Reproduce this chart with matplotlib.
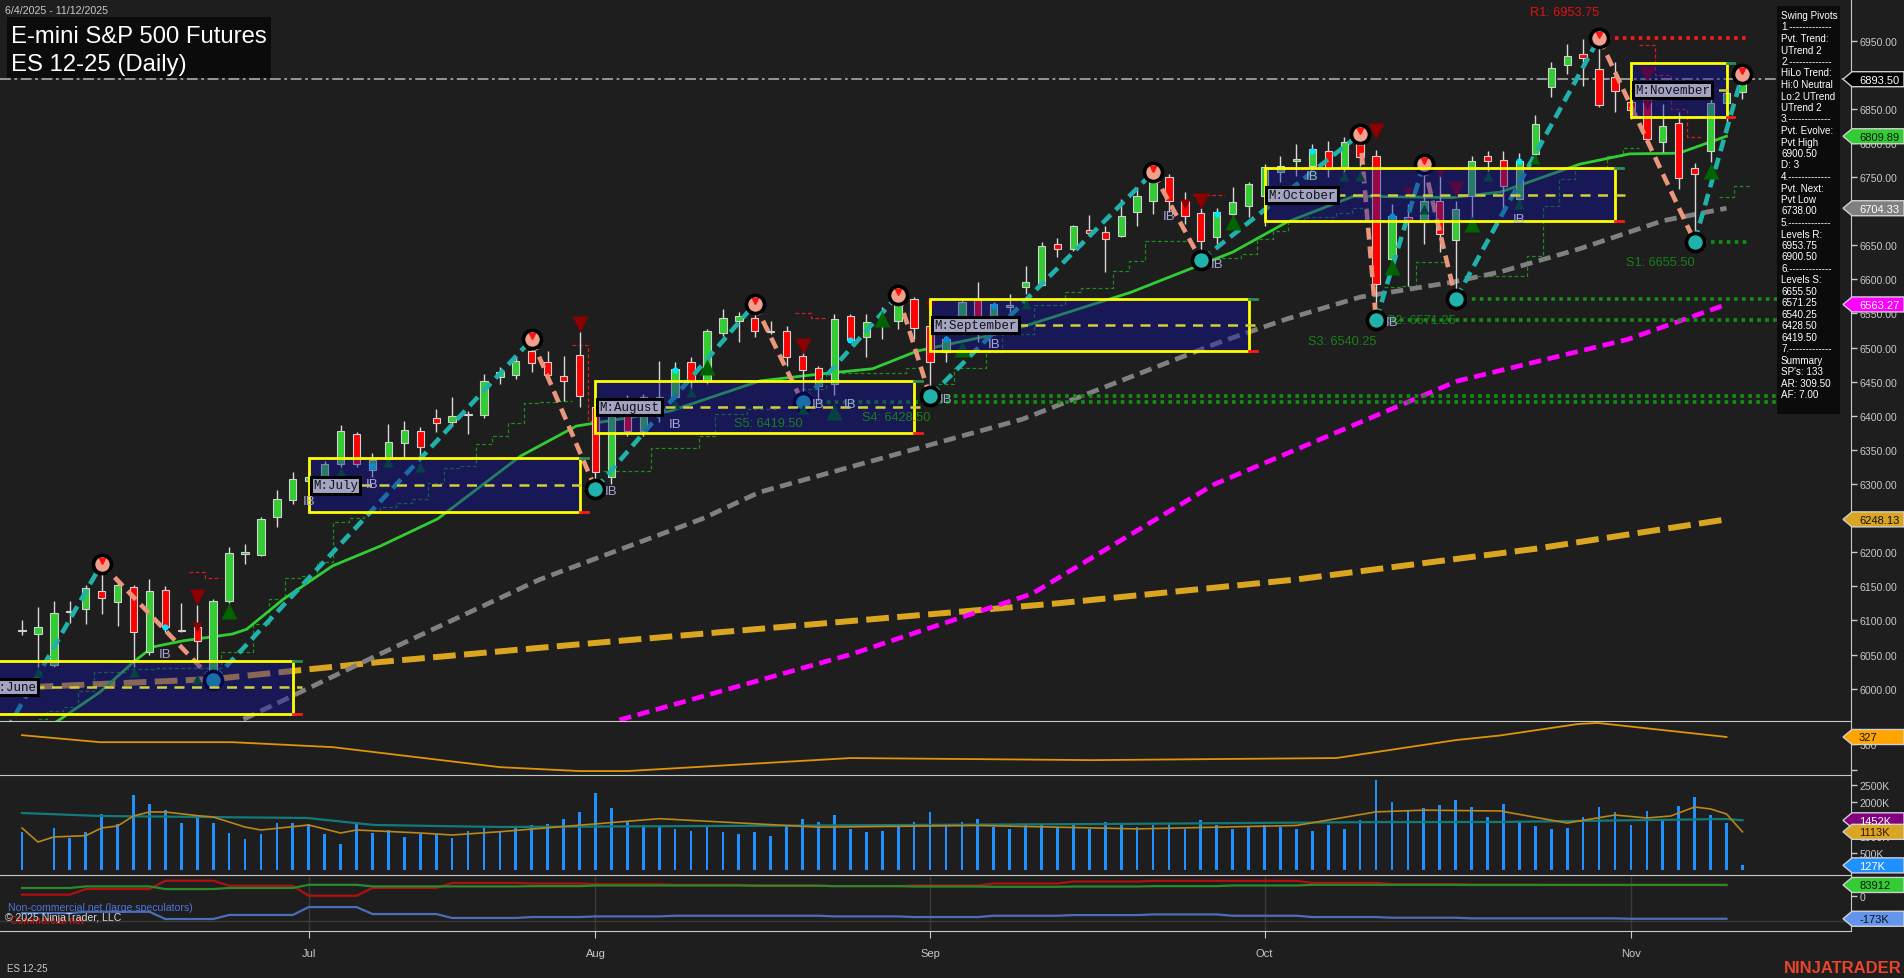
import numpy as np
import matplotlib
matplotlib.use('Agg')
import matplotlib.pyplot as plt
from matplotlib.patches import Rectangle, Polygon
from matplotlib.transforms import offset_copy

plt.rcParams['font.family'] = ['Liberation Sans', 'DejaVu Sans']

BG = '#1e1e1e'
FG = '#c8c8c8'
W, H = 1904, 979

# ES 12-25 daily bars (bar index 0 = first bar on screen)
opens = [6085, 6080, 6035, 6112, 6116, 6143, 6127, 6149, 6053, 6144,
         6086, 6090, 6024, 6129, 6197, 6196, 6251, 6276, 6305, 6300,
         6329, 6373, 6320, 6336, 6360, 6377, 6397, 6391, 6402, 6401,
         6457, 6460, 6495, 6479, 6458, 6489, 6413, 6310, 6425, 6377,
         6427, 6427, 6479, 6451, 6522, 6539, 6544, 6525, 6524, 6487,
         6470, 6447, 6546, 6515, 6533, 6539, 6571, 6532, 6493, 6532,
         6571, 6542, 6560, 6589, 6592, 6652, 6644, 6672, 6669, 6664,
         6699, 6715, 6750, 6715, 6697, 6662, 6696, 6707, 6722, 6757,
         6774, 6766, 6788, 6765, 6798, 6781, 6630, 6692, 6684, 6715,
         6658, 6722, 6781, 6775, 6718, 6784, 6882, 6915, 6930, 6908,
         6897, 6860, 6864, 6801, 6829, 6763, 6788, 6859, 6875]
highs = [6100, 6119, 6129, 6129, 6152, 6183, 6161, 6152, 6161, 6150,
         6125, 6122, 6132, 6208, 6212, 6251, 6291, 6318, 6320, 6333,
         6386, 6376, 6345, 6388, 6393, 6384, 6410, 6427, 6407, 6461,
         6472, 6487, 6512, 6495, 6487, 6523, 6420, 6425, 6430, 6432,
         6480, 6479, 6486, 6527, 6556, 6552, 6564, 6539, 6532, 6493,
         6473, 6549, 6549, 6549, 6560, 6577, 6574, 6540, 6517, 6570,
         6596, 6567, 6579, 6620, 6655, 6661, 6680, 6694, 6678, 6718,
         6735, 6757, 6755, 6728, 6704, 6704, 6735, 6743, 6769, 6781,
         6798, 6798, 6803, 6809, 6813, 6790, 6710, 6710, 6769, 6755,
         6715, 6781, 6788, 6788, 6786, 6841, 6919, 6945, 6952, 6953.75,
         6919, 6880, 6880, 6857, 6845, 6770, 6865, 6882, 6900.5]
lows = [6078, 6032, 6032, 6096, 6094, 6109, 6092, 6032, 6050, 6083,
        6083, 6032, 6012, 6125, 6183, 6194, 6237, 6270, 6295, 6290,
        6325, 6325, 6310, 6332, 6337, 6337, 6376, 6385, 6373, 6397,
        6447, 6454, 6464, 6450, 6422, 6413, 6293, 6300, 6370, 6370,
        6391, 6425, 6435, 6447, 6517, 6508, 6515, 6520, 6473, 6419.5,
        6422, 6430, 6508, 6486, 6512, 6527, 6512, 6428.5, 6479, 6520,
        6508, 6523, 6542, 6579, 6590, 6633, 6642, 6664, 6611, 6662,
        6678, 6696, 6699, 6681, 6628, 6652, 6688, 6691, 6678, 6743,
        6752, 6752, 6750, 6747, 6766, 6540.25, 6611, 6590, 6652, 6640,
        6571.25, 6688, 6759, 6703, 6713, 6771, 6867, 6901, 6884, 6853,
        6845, 6835, 6800, 6787, 6732, 6655.5, 6772, 6830, 6865]
closes = [6086, 6090, 6111, 6113, 6148, 6133, 6152, 6083, 6143, 6090,
          6085, 6070, 6129, 6199, 6200, 6249, 6278, 6307, 6310, 6329,
          6378, 6329, 6335, 6361, 6379, 6354, 6389, 6400, 6401, 6451,
          6464, 6480, 6477, 6460, 6451, 6429, 6317, 6420, 6377, 6427,
          6424, 6468, 6451, 6524, 6544, 6546, 6525, 6523, 6486, 6467,
          6444, 6542, 6511, 6537, 6536, 6564, 6529, 6479, 6512, 6567,
          6544, 6564, 6562, 6596, 6649, 6644, 6678, 6668, 6659, 6693,
          6722, 6743, 6715, 6693, 6656, 6699, 6713, 6740, 6765, 6766,
          6776, 6791, 6762, 6801, 6779, 6593, 6693, 6686, 6715, 6666,
          6703, 6774, 6774, 6737, 6773, 6828, 6910, 6928, 6924, 6856,
          6876, 6848, 6806, 6825, 6748, 6754, 6859, 6873, 6893.5]
volume_k = [1117, 0, 1226, 930, 1117, 1638, 1344, 2197, 1932, 1755,
            1373, 1589, 1373, 1079, 903, 1050, 1373, 1373, 1344, 1050,
            756, 1402, 1079, 1167, 971, 1050, 1050, 932, 1138, 1226,
            1150, 1250, 1300, 1350, 1500, 1700, 2250, 1800, 1400, 1300,
            1250, 1200, 1150, 1300, 1100, 1050, 1100, 1000, 1300, 1500,
            1400, 1600, 1200, 1100, 1150, 1250, 1400, 1700, 1350, 1400,
            1500, 1250, 1200, 1300, 1350, 1250, 1300, 1200, 1400, 1300,
            1250, 1300, 1350, 1200, 1450, 1300, 1200, 1250, 1300, 1250,
            1200, 1150, 1300, 1200, 1450, 2650, 2000, 1750, 1800, 1900,
            2050, 1850, 1550, 1932, 1402, 1285, 1197, 1226, 1550, 1844,
            1697, 1314, 1726, 1491, 1873, 2138, 1608, 1373, 127]

month_labels = ['Jul', 'Aug', 'Sep', 'Oct', 'Nov']
month_ticks = [18, 36, 57, 78, 101]

# moving averages (bar index, value)
ma_green_i = [1.0, 2.4, 4.9, 7.0, 8.2, 10.1, 13.2, 14.1, 16.4, 19.5, 22.5, 26.1, 31.3, 34.8, 40.7,
              46.3, 50.0, 53.4, 56.2, 61.8, 69.6, 76.0, 79.4, 83.6, 89.8, 92.8, 97.8, 100.9, 104.0, 107.0]
ma_green_v = [5935, 5955, 5995, 6039, 6061, 6070, 6080, 6087, 6131, 6180, 6209, 6249, 6341, 6385, 6407,
              6451, 6461, 6469, 6495, 6523, 6581, 6640, 6684, 6722, 6720, 6728, 6769, 6784, 6785, 6809.89]
ma_gray_i = [13.9, 22.5, 32.5, 42.7, 46.3, 62.8, 69.6, 75.2, 79.4, 84.0, 89.8, 92.8, 97.8, 103.0, 107.0]
ma_gray_v = [5955, 6051, 6160, 6249, 6288, 6395, 6457, 6508, 6542, 6574, 6596, 6611, 6645, 6686, 6704.33]
ma_mag_i = [37.5, 52.0, 63.4, 74.8, 90.1, 100.8, 107.0]
ma_mag_v = [5954, 6050, 6139, 6299, 6451, 6512, 6563.27]
ma_orange_i = [-1.4, 1.3, 12.0, 22.5, 35.0, 50.0, 65.0, 80.0, 95.0, 107.0]
ma_orange_v = [5998, 6003, 6014, 6039, 6065, 6095, 6125, 6160, 6205, 6248.13]

# swing pivots (first one is off screen)
pivot_idx = [-1, 5, 12, 32, 36, 46, 49, 55, 57, 71, 74, 84, 85, 88, 90, 99, 105, 108]
pivot_px = [5938, 6183, 6012, 6512, 6293, 6564, 6419.5, 6577, 6428.5, 6757, 6628, 6813,
            6540.25, 6769, 6571.25, 6953.75, 6655.5, 6900.5]

# monthly boxes
box_names = ['June', 'July', 'August', 'September', 'October', 'November']
box_start = [-2.2, 18, 36, 57, 78, 101]
box_end = [17, 35, 56, 77, 100, 107]
box_high = [6040, 6338, 6451, 6571, 6763, 6917]
box_low = [5963, 6259, 6375, 6495, 6686, 6838]
box_mid = [6002, 6298, 6413, 6533, 6724, 6878]

# support / resistance levels
sr_names = ['R1', 'S1', 'S2', 'S3', 'S4', 'S5']
sr_values = [6953.75, 6655.50, 6571.25, 6540.25, 6428.50, 6419.50]
sr_start = [99, 105, 90, 85, 57, 49]
sr_end = [108.3, 108.3, 110.5, 110.5, 110.5, 110.5]

# trailing stop steps (start, end, level)
stop_start = [1.0, 1.6, 2.6, 3.5, 4.5, 6.5, 8.5, 12.5, 14.5, 15.5, 16.5, 17.5, 18.5, 19.5, 20.5, 21.5,
              22.5, 23.5, 24.5, 25.5, 26.5, 27.5, 28.5, 29.5, 30.5, 31.5, 32.5, 33.5,
              36.5, 39.5, 42.5, 43.5, 45.5, 48.5, 50.5, 55.5,
              57.5, 58.5, 60.5, 61.5, 63.5, 65.5, 66.5, 68.5, 69.5, 70.5,
              74.5, 76.5, 77.5, 78.5, 79.5, 80.5, 82.5, 83.5,
              85.5, 86.5, 87.5, 90.5, 94.5, 95.5, 96.5, 97.5, 99.5, 100.5, 106.5, 107.5]
stop_end = [1.6, 2.6, 3.5, 4.5, 6.5, 8.5, 12.5, 14.5, 15.5, 16.5, 17.5, 18.5, 19.5, 20.5, 21.5, 22.5,
            23.5, 24.5, 25.5, 26.5, 27.5, 28.5, 29.5, 30.5, 31.5, 32.5, 33.5, 34.5,
            39.5, 42.5, 43.5, 45.5, 47.5, 50.5, 55.5, 56.5,
            58.5, 60.5, 61.5, 63.5, 65.5, 66.5, 68.5, 69.5, 70.5, 73.5,
            76.5, 77.5, 78.5, 79.5, 80.5, 82.5, 83.5, 84.5,
            86.5, 87.5, 89.5, 94.5, 95.5, 96.5, 97.5, 99.5, 100.5, 101.5, 107.5, 108.5]
stop_level = [5955, 5967, 5973, 5997, 6024, 6029, 6030, 6054, 6095, 6131, 6162, 6165, 6186, 6244, 6250, 6259,
              6266, 6272, 6278, 6302, 6323, 6326, 6358, 6371, 6389, 6419, 6420, 6422,
              6319, 6353, 6370, 6402, 6410, 6440, 6463, 6470,
              6446, 6470, 6493, 6520, 6562, 6582, 6587, 6612, 6627, 6656,
              6631, 6637, 6659, 6671, 6687, 6691, 6697, 6704,
              6589, 6590, 6626, 6605, 6634, 6708, 6747, 6764, 6781, 6793, 6721, 6737]
sell_start = [10.5, 11.5, 34.5, 35.5, 48.5, 49.5, 73.5, 101.5, 102.5, 103.5, 104.5]
sell_end = [11.5, 12.5, 35.5, 36.5, 49.5, 50.5, 75.5, 102.5, 103.5, 104.5, 105.5]
sell_level = [6171, 6162, 6504, 6392, 6551, 6543, 6724, 6944, 6900, 6850, 6809]

# signal markers
tri_up_i = [1, 7, 11, 13, 20, 23, 25, 41, 42, 43, 49, 51, 54, 59, 63, 76, 81, 83, 84, 86, 88, 91, 92, 94, 95, 106]
tri_up_p = [6025, 6025, 6014, 6114, 6317, 6332, 6325, 6417, 6435, 6471, 6410, 6405, 6542, 6498, 6564,
            6684, 6755, 6752, 6752, 6618, 6703, 6681, 6752, 6710, 6776, 6759]
tri_up_big = [0, 0, 0, 1, 0, 0, 0, 0, 0, 1, 0, 1, 1, 1, 0, 1, 0, 0, 0, 1, 0, 1, 0, 0, 0, 1]
tri_dn_i = [11, 11, 35, 49, 57, 73, 74, 85, 87, 89, 90, 102, 102]
tri_dn_p = [6134, 6090, 6535, 6502, 6561, 6710, 6715, 6818, 6728, 6757, 6733, 6901, 6855]
tri_dn_big = [1, 0, 1, 1, 0, 0, 1, 1, 0, 0, 1, 1, 0]
dot_i = [9, 22, 41, 52, 58, 61, 75, 81, 86, 94]
dot_p = [6090, 6326, 6467, 6511, 6512, 6561, 6696, 6788, 6693, 6773]
ib_i = [9, 18, 22, 37, 41, 50, 52, 58, 61, 72, 75, 81, 86, 94]
ib_p = [6051, 6275, 6300, 6290, 6388, 6417, 6417, 6425, 6505, 6693, 6622, 6751, 6538, 6688]

# lower panels
osc_i = [0, 4.9, 13.2, 19.5, 30.0, 35.0, 38.0, 52.0, 67.2, 82.5, 90.0, 92.8, 97.7, 98.9, 107.0]
osc_v = [334, 307, 307, 288, 211, 196, 196, 246, 238, 246, 315, 333, 377, 381, 327]
vol_slow_i = [0, 4.9, 17.9, 22.1, 30.0, 50, 70, 85, 92.8, 107, 108]
vol_slow_v = [1667, 1579, 1520, 1314, 1255, 1300, 1350, 1400, 1402, 1491, 1452]
vol_fast_i = [0, 1, 2, 4, 5, 6, 7, 8, 9, 11, 12, 14, 15, 18, 20, 21, 25, 27, 30, 40, 50, 60, 70,
              80, 85, 88, 92.8, 97, 100, 102, 103.5, 105, 106, 107, 108]
vol_fast_v = [1226, 815, 962, 1000, 1226, 1285, 1579, 1697, 1697, 1589, 1550, 1255, 1167, 1314, 1079,
              1167, 1079, 1020, 1117, 1500, 1250, 1300, 1200, 1300, 1700, 1750, 1726, 1373, 1608,
              1520, 1579, 1844, 1785, 1638, 1113]
cot_week = [0, 4, 9, 13, 18, 22, 27, 32, 36, 41, 46, 51, 56, 61, 66, 71, 76, 81, 86, 91, 96, 101, 107]
cot_green = [61, 73, 53, 61, 85, 73, 73, 75, 80, 80, 78, 75, 72, 70, 72, 75, 80, 85, 85, 84, 84, 84, 83.912]
cot_red = [10, 53, 116, 78, 2, 61, 99, 95, 90, 85, 80, 75, 80, 95, 110, 115, 115, 100, 90, 86, 84, 84, 84]
cot_blue = [-130, -120, -175, -144, -84, -137, -167, -160, -155, -150, -150, -155, -160, -150, -145,
            -140, -150, -160, -165, -170, -170, -173, -173]

pivot_lines = ['Swing Pivots', '1.-------------', 'Pvt. Trend:', 'UTrend 2', '2.-------------',
               'HiLo Trend:', 'Hi:0 Neutral', 'Lo:2 UTrend', 'UTrend 2', '3.-------------',
               'Pvt. Evolve:', 'Pvt High', '6900.50', 'D: 3', '4.-------------', 'Pvt. Next:',
               'Pvt Low', '6738.00', '5.-------------', 'Levels R:', '6953.75', '6900.50',
               '6.-------------', 'Levels S:', '6655.50', '6571.25', '6540.25', '6428.50', '6419.50',
               '7.-------------', 'Summary', "SP's: 133", 'AR: 309.50', 'AF: 7.00']

# ---------------------------------------------------------------
AXIS_X = 1851
BAR0, BARW = 22, 15.93
xlo, xhi = -BAR0 / BARW, (AXIS_X - BAR0) / BARW

fig = plt.figure(figsize=(W / 100, H / 100), dpi=100, facecolor=BG)


def panel(top, bottom):
    a = fig.add_axes([0, 1 - bottom / H, AXIS_X / W, (bottom - top) / H], facecolor=BG)
    a.set_xlim(xlo, xhi)
    for s in a.spines.values():
        s.set_visible(False)
    a.spines['right'].set_visible(True)
    a.spines['right'].set_color(FG)
    a.spines['top'].set_color(FG)
    a.spines['bottom'].set_color(FG)
    a.yaxis.tick_right()
    a.tick_params(axis='y', colors=FG, labelsize=7.6, length=4.5, width=1, pad=1.5)
    a.tick_params(axis='x', bottom=False, labelbottom=False)
    return a


ax = panel(0, 722)
ax_a = panel(722, 776)
ax_b = panel(776, 876)
ax_c = panel(876, 932)
for a in (ax_a, ax_b, ax_c):
    a.spines['top'].set_visible(True)
ax_c.spines['bottom'].set_visible(True)

ax.set_ylim(5952.5, 7011.1)
yt = np.arange(6000, 6951, 50)
ax.set_yticks(yt)
ax.set_yticklabels(['%.2f' % v for v in yt])

# moving averages
ax.plot(ma_orange_i, ma_orange_v, color='#daa520', lw=4.3, ls=(0, (3.8, 1.4)), zorder=3)
ax.plot(ma_mag_i, ma_mag_v, color='#ff00ff', lw=3.4, ls=(0, (2.6, 1.4)), zorder=3)
ax.plot(ma_gray_i, ma_gray_v, color='#808080', lw=3.4, ls=(0, (2.6, 1.4)), zorder=3)
ax.plot(ma_green_i, ma_green_v, color='#32cd32', lw=2.0, zorder=4)


def steps(starts, ends, levels):
    xs, ys = [], []
    prev = None
    for s, e, v in zip(starts, ends, levels):
        if prev is not None and abs(s - prev) > 1e-6:
            xs.append(np.nan)
            ys.append(np.nan)
        xs += [s, e]
        ys += [v, v]
        prev = e
    return xs, ys


ax.plot(*steps(stop_start, stop_end, stop_level), color='#1c8c1c', lw=0.9, ls=(0, (3, 2)), zorder=2)
ax.plot(*steps(sell_start, sell_end, sell_level), color='#e01818', lw=0.9, ls=(0, (3, 2)), zorder=2)

ax.axhline(closes[-1], color='#a0a0a0', lw=1.3, ls=(0, (6, 2, 1.5, 2)), zorder=4)

# candles
o = np.array(opens, float)
c = np.array(closes, float)
hi = np.array(highs, float)
lo = np.array(lows, float)
x = np.arange(len(o))
upb = c >= o
ax.vlines(x, lo, hi, color='#d8d8d8', lw=1, zorder=5)
ax.bar(x, np.maximum(np.abs(c - o), 1.3), bottom=np.minimum(o, c), width=0.46,
       color=np.where(upb, '#32cd32', '#ff0000'), edgecolor='#d0d0d0', linewidth=0.8, zorder=6)

# zigzag between swing pivots
for k in range(len(pivot_idx) - 1):
    col = '#20b2aa' if pivot_px[k + 1] > pivot_px[k] else '#e9967a'
    ax.plot(pivot_idx[k:k + 2], pivot_px[k:k + 2], color=col, lw=3.3, ls=(0, (2.6, 1.5)),
            zorder=7, dash_capstyle='butt')
tri_tr = offset_copy(ax.transData, fig=fig, x=0, y=3, units='dots')
for k in range(1, len(pivot_idx)):
    is_high = pivot_px[k] > pivot_px[k - 1]
    ax.plot(pivot_idx[k], pivot_px[k], 'o', ms=13, mfc='#f0a08c' if is_high else '#20b2aa',
            mec='black', mew=2.6, zorder=8)
    if is_high:
        ax.plot(pivot_idx[k], pivot_px[k], 'v', ms=4.5, color='#ff1010', transform=tri_tr, zorder=8)

# signal markers
for i, p, b in zip(tri_up_i, tri_up_p, tri_up_big):
    ax.plot(i, p, '^', ms=11 if b else 7, color='#006400', mec='none', zorder=8)
for i, p, b in zip(tri_dn_i, tri_dn_p, tri_dn_big):
    ax.plot(i, p, 'v', ms=11 if b else 7, color='#8b0000', mec='none', zorder=8)
ax.plot(dot_i, dot_p, 'o', ms=4.5, color='#00e5ff', mec='none', zorder=8)

# support / resistance
for name, v, s, e in zip(sr_names, sr_values, sr_start, sr_end):
    col = '#ff1a1a' if name.startswith('R') else '#139013'
    ax.plot([s, e], [v, v], color=col, lw=2.6, ls=(0, (1, 1.2)), dash_capstyle='butt', zorder=7)
    ax.annotate('%s: %.2f' % (name, v), (s, v), xytext=(0, 19 if name.startswith('R') else -15),
                textcoords='offset points', ha='right', va='center', fontsize=9.2,
                color='#e01010' if name.startswith('R') else '#1a7f1a', zorder=11)

# monthly boxes
for name, s, e, bh, bl, bm in zip(box_names, box_start, box_end, box_high, box_low, box_mid):
    ax.add_patch(Rectangle((s, bl), e - s, bh - bl, fc='#1212a7', alpha=0.42, ec='none', zorder=9))
    ax.add_patch(Rectangle((s, bl), e - s, bh - bl, fc='none', ec='#ffff00', lw=2.0, zorder=10))
    ax.plot([s, e + 0.6], [bm, bm], color='#cfcf3a', lw=1.8, ls=(0, (4, 3)), zorder=10)
    ax.plot([e, e + 0.5], [bl, bl], color='#ff1a1a', lw=2, zorder=10)
    ax.plot([e, e + 0.5], [bh, bh], color='#2e8b57', lw=2, zorder=10)
    ax.annotate('M:' + name, (s, bm), xytext=(3, 0), textcoords='offset points', ha='left',
                va='center', fontsize=9, family=['Liberation Mono', 'DejaVu Sans Mono'],
                color='#111111', zorder=12, annotation_clip=False,
                bbox=dict(boxstyle='square,pad=0.18', fc='#a3a3c4', ec='black', lw=2.2))

for i, p in zip(ib_i, ib_p):
    ax.text(i, p, 'IB', color='#a8a8d8', fontsize=9.5, ha='center', va='center', zorder=11)

# panel A
ax_a.set_ylim(180.8, 388.5)
ax_a.set_yticks([200, 300])
ax_a.set_yticklabels(['', '300'])
ax_a.plot(osc_i, osc_v, color='#e0940c', lw=1.3)

# panel B: volume
ax_b.set_ylim(-156, 2784)
ax_b.set_yticks([500, 1000, 1500, 2000, 2500])
ax_b.set_yticklabels(['500K', '1000K', '1500K', '2000K', '2500K'])
ax_b.bar(x, volume_k, width=0.17, color='#1e90ff', zorder=2)
ax_b.plot(vol_slow_i, vol_slow_v, color='#137a7a', lw=1.6, zorder=3)
ax_b.plot(vol_fast_i, vol_fast_v, color='#b8861a', lw=1.2, zorder=3)

# panel C: COT
ax_c.set_ylim(-266, 159.6)
ax_c.set_yticks([0])
ax_c.set_yticklabels(['0'])
for t in month_ticks:
    ax_c.axvline(t, color='#3a3a3a', lw=1, zorder=0)
ax_c.axhline(-190, color='#3a3a3a', lw=1, zorder=0)


def weekly(vals):
    xs, ys = [], []
    for k, v in enumerate(vals):
        xs.append(cot_week[k])
        ys.append(v)
        if k < len(vals) - 1:
            xs.append(cot_week[k + 1] - 1)
            ys.append(v)
    return xs, ys


ax_c.plot(*weekly(cot_red), color='#b01010', lw=1.6)
ax_c.plot(*weekly(cot_green), color='#2a8a2a', lw=1.6)
ax_c.plot(*weekly(cot_blue), color='#4a6fb8', lw=1.6)
ax_c.set_xticks(month_ticks)
ax_c.set_xticklabels(month_labels)
ax_c.tick_params(axis='x', bottom=True, labelbottom=True, colors=FG, length=5, pad=7, labelsize=8)

# ---------------------------------------------------------------
over = fig.add_axes([0, 0, 1, 1])
over.set_xlim(0, W)
over.set_ylim(H, 0)
over.axis('off')
over.patch.set_alpha(0)
over.set_zorder(10)


def flag(axis, value, text, fc, tc):
    y = H - axis.transData.transform((0, value))[1]
    pts = [(1843, y), (1852, y - 7.5), (1904, y - 7.5), (1904, y + 7.5), (1852, y + 7.5)]
    over.add_patch(Polygon(pts, closed=True, fc=fc, ec='#d0d0d0', lw=1, zorder=20))
    over.text(1859, y + 0.5, text, color=tc, fontsize=8, va='center', ha='left', zorder=21)


flag(ax, closes[-1], '%.2f' % closes[-1], 'black', 'white')
flag(ax, ma_green_v[-1], '%.2f' % ma_green_v[-1], '#32cd32', '#111111')
flag(ax, ma_gray_v[-1], '%.2f' % ma_gray_v[-1], '#808080', 'white')
flag(ax, ma_mag_v[-1], '%.2f' % ma_mag_v[-1], '#ff00ff', 'white')
flag(ax, ma_orange_v[-1], '%.2f' % ma_orange_v[-1], '#daa520', '#111111')
flag(ax_a, osc_v[-1], '%d' % osc_v[-1], '#ffa500', '#111111')
flag(ax_b, vol_slow_v[-1], '%dK' % vol_slow_v[-1], '#800080', 'white')
flag(ax_b, vol_fast_v[-1], '%dK' % vol_fast_v[-1], '#daa520', '#3a1400')
flag(ax_b, volume_k[-1], '%dK' % volume_k[-1], '#1e90ff', 'white')
flag(ax_c, cot_green[-1], '%d' % round(cot_green[-1] * 1000), '#32cd32', '#111111')
flag(ax_c, cot_blue[-1], '%dK' % cot_blue[-1], '#6495ed', '#111111')

over.text(5, 11, '6/4/2025 - 11/12/2025', color=FG, fontsize=7.7, va='center')
over.add_patch(Rectangle((7, 18), 264, 61, fc='#0b0b0b', ec='none'))
over.text(11, 43, 'E-mini S&P 500 Futures', color='white', fontsize=17.2, va='baseline')
over.text(11, 71, 'ES 12-25 (Daily)', color='white', fontsize=17.2, va='baseline')

over.add_patch(Rectangle((1777, 7), 63, 408, fc='#0b0b0b', ec='none'))
for k, line in enumerate(pivot_lines):
    over.text(1781, 16 + 11.5 * k, line, color='white', fontsize=7.1, va='center', ha='left')

over.text(8, 908, 'Non-commercial net (large speculators)', color='#4f74d6', fontsize=7.6, va='center')
over.text(10, 921, 'Commercial net', color='#e01010', fontsize=7.6, va='center')
over.text(5, 918, '\u00a9 2025 NinjaTrader, LLC', color='#d8d8d8', fontsize=7.6, va='center')
over.text(7, 969, 'ES 12-25', color=FG, fontsize=7, va='center')
over.text(1902, 969, 'NINJATRADER', color='#e8452c', fontsize=12, fontweight='bold',
          va='center', ha='right')

fig.savefig('out.png', dpi=100, facecolor=BG)
